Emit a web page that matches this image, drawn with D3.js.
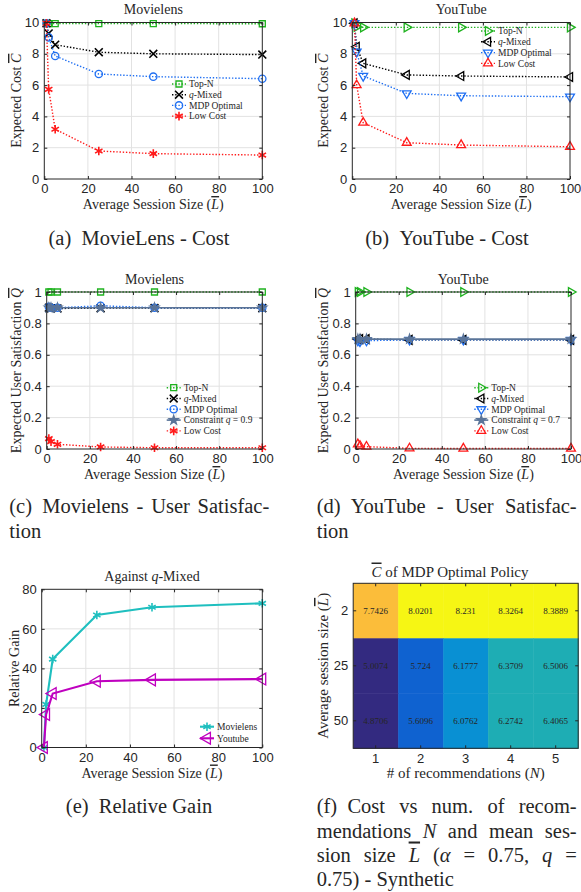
<!DOCTYPE html>
<html>
<head>
<meta charset="utf-8">
<script src="https://cdn.jsdelivr.net/npm/d3@7"></script>
<style>
body { margin: 0; background: #fff; }
svg { display: block; }
text { fill: #262626; }
.serif { font-family: "Liberation Serif", "Times New Roman", serif; }
.sans { font-family: "Liberation Sans", Arial, sans-serif; }
</style>
</head>
<body>
<svg id="fig" width="581" height="892"></svg>
<script>
// average session sizes (x axis of panels a-e)
const sessionSizes = [1, 2, 5, 25, 50, 100];

// (a) Movielens - expected cost
const mlCostTopN   = [9.95, 9.93, 9.93, 9.93, 9.93, 9.92];
const mlCostMixed  = [9.95, 9.3, 8.58, 8.1, 8.0, 7.95];
const mlCostMdp    = [9.95, 9.05, 7.86, 6.71, 6.54, 6.41];
const mlCostLow    = [9.95, 5.73, 3.18, 1.79, 1.62, 1.53];

// (b) YouTube - expected cost
const ytCostTopN   = [9.95, 9.72, 9.69, 9.69, 9.69, 9.69];
const ytCostMixed  = [9.95, 8.45, 7.39, 6.65, 6.58, 6.52];
const ytCostMdp    = [9.95, 8.13, 6.58, 5.47, 5.32, 5.26];
const ytCostLow    = [9.95, 6.0, 3.6, 2.32, 2.17, 2.06];

// (c) Movielens - user satisfaction
const mlSatTopN    = [1, 1, 1, 1, 1, 1];
const mlSatMixed   = [0.9, 0.895, 0.895, 0.897, 0.898, 0.898];
const mlSatMdp     = [0.905, 0.9, 0.9, 0.912, 0.9, 0.9];
const mlSatConstr  = [0.9, 0.9, 0.9, 0.9, 0.9, 0.9];
const mlSatLow     = [0.066, 0.047, 0.03, 0.013, 0.008, 0.008];

// (d) YouTube - user satisfaction
const ytSatTopN    = [1, 1, 1, 1, 1, 1];
const ytSatMixed   = [0.7, 0.7, 0.7, 0.695, 0.695, 0.695];
const ytSatMdp     = [0.69, 0.685, 0.69, 0.695, 0.695, 0.695];
const ytSatConstr  = [0.7, 0.7, 0.7, 0.7, 0.7, 0.7];
const ytSatLow     = [0.03, 0.02, 0.015, 0.004, 0.003, 0.003];

// (e) relative gain against q-Mixed
const gainMovielens = [0, 21.8, 44.7, 67, 70.9, 72.9];
const gainYoutube   = [0, 16.7, 27.3, 33.5, 34.2, 34.6];

// (f) heatmap
const heatCols = [1, 2, 3, 4, 5];
const heatRows = [2, 25, 50];
const heatValues = [
	[7.7426, 8.0201, 8.231, 8.3264, 8.3889],
	[5.0074, 5.724, 6.1777, 6.3709, 6.5006],
	[4.8706, 5.6096, 6.0762, 6.2742, 6.4065]
];
const heatColors = ["#332a80", "#0f62d0", "#0990d3", "#1eadb4", "#80bf6e", "#d3ba4e", "#fbbd3a", "#f6f614"];

const GREEN = "#1fb21f", BLUE = "#1f6ff2", RED = "#ff1a1a", SLATE = "#5a7499";

const svg = d3.select("#fig");

function richText(sel, parts) {
	parts.forEach(p => {
		const ts = sel.append("tspan").text(p[0]);
		if (p[1] && p[1].includes("i")) ts.attr("font-style", "italic");
		if (p[1] && p[1].includes("o")) ts.style("text-decoration", "overline");
	});
	return sel;
}

function marker(sel, type, size, color) {
	const shapes = {
		square: d3.symbolSquare, circle: d3.symbolCircle, x: d3.symbolTimes,
		asterisk: d3.symbolAsterisk, star: d3.symbolStar,
		up: d3.symbolTriangle, down: d3.symbolTriangle, right: d3.symbolTriangle, left: d3.symbolTriangle
	};
	const rot = { down: 180, right: 90, left: -90 };
	sel.attr("d", d3.symbol(shapes[type], size))
		.attr("fill", type == "star" ? color : "none")
		.attr("stroke", color)
		.attr("stroke-width", type == "x" || type == "asterisk" ? 1.6 : 1.3);
	return rot[type] || 0;
}

function linePanel(o) {
	const g = svg.append("g");
	const x = d3.scaleLinear().domain([0, 100]).range([o.left, o.right]);
	const y = d3.scaleLinear().domain(o.yDomain).range([o.bottom, o.top]);
	const lw = o.lineWidth || 1.4;

	// grid
	g.selectAll(".gx").data(x.ticks(5).slice(1, -1)).enter().append("line")
		.attr("x1", d => x(d)).attr("x2", d => x(d))
		.attr("y1", o.top).attr("y2", o.bottom)
		.attr("stroke", "#e2e2e2");
	g.selectAll(".gy").data(o.yTicks.slice(1, -1)).enter().append("line")
		.attr("y1", d => y(d)).attr("y2", d => y(d))
		.attr("x1", o.left).attr("x2", o.right)
		.attr("stroke", "#e2e2e2");

	// series
	const line = d3.line().x((d, i) => x(sessionSizes[i])).y(d => y(d));
	o.series.forEach(s => {
		g.append("path").datum(s.values)
			.attr("d", line)
			.attr("fill", "none")
			.attr("stroke", s.color)
			.attr("stroke-width", s.solid ? lw + 0.2 : lw)
			.attr("stroke-dasharray", s.solid ? null : "1.4 1.8");
		g.selectAll(null).data(s.values).enter().append("path")
			.each(function(d, i) {
				const r = marker(d3.select(this), s.marker, s.size || 36, s.color);
				d3.select(this).attr("transform", `translate(${x(sessionSizes[i])},${y(d)}) rotate(${r})`);
			});
	});

	// axes
	g.append("g").attr("transform", `translate(0,${o.bottom})`)
		.call(d3.axisBottom(x).ticks(5).tickSizeInner(-3).tickSizeOuter(0).tickPadding(5));
	g.append("g").attr("transform", `translate(${o.left},0)`)
		.call(d3.axisLeft(y).tickValues(o.yTicks).tickFormat(o.yFmt || d3.format("d")).tickSizeInner(-3).tickSizeOuter(0).tickPadding(5));
	g.append("g").attr("transform", `translate(0,${o.top})`)
		.call(d3.axisTop(x).ticks(5).tickFormat("").tickSizeInner(-3).tickSizeOuter(0));
	g.append("g").attr("transform", `translate(${o.right},0)`)
		.call(d3.axisRight(y).tickValues(o.yTicks).tickFormat("").tickSizeInner(-3).tickSizeOuter(0));
	g.selectAll(".domain").remove();
	g.selectAll(".tick line").attr("stroke", "#262626");
	g.selectAll(".tick text").attr("class", "sans").attr("font-size", 13).attr("fill", "#262626");

	g.append("rect")
		.attr("x", o.left).attr("y", o.top)
		.attr("width", o.right - o.left).attr("height", o.bottom - o.top)
		.attr("fill", "none").attr("stroke", "#262626").attr("stroke-width", 1);

	// labels
	richText(g.append("text").attr("class", "serif").attr("font-size", 14)
		.attr("text-anchor", "middle").attr("x", (o.left + o.right) / 2).attr("y", o.top - 8.5), o.title);
	richText(g.append("text").attr("class", "serif").attr("font-size", 14)
		.attr("text-anchor", "middle").attr("x", (o.left + o.right) / 2).attr("y", o.bottom + 30),
		[["Average Session Size ("], ["L", "io"], [")"]]);
	richText(g.append("text").attr("class", "serif").attr("font-size", 14)
		.attr("text-anchor", "middle")
		.attr("transform", `translate(${o.ylabelX},${(o.top + o.bottom) / 2}) rotate(-90)`), o.ylabel);

	// legend
	o.series.forEach((s, i) => {
		const ly = o.legend[1] + i * o.legend[2];
		const lx = o.legend[0];
		g.append("line").attr("x1", lx).attr("x2", lx + 14).attr("y1", ly).attr("y2", ly)
			.attr("stroke", s.color).attr("stroke-width", s.solid ? lw + 0.2 : lw)
			.attr("stroke-dasharray", s.solid ? null : "1.4 1.8");
		const m = g.append("path");
		const r = marker(m, s.marker, s.size || 36, s.color);
		m.attr("transform", `translate(${lx + 7},${ly}) rotate(${r})`);
		richText(g.append("text").attr("class", "serif").attr("font-size", 9.5)
			.attr("x", lx + 17).attr("y", ly + 3.3), s.label);
	});
}

const costLabel = [["Expected Cost "], ["C", "io"]];
const satLabel = [["Expected User Satisfaction "], ["Q", "io"]];
const mixedLabel = [["q", "i"], ["-Mixed"]];

linePanel({
	left: 44.3, right: 262.3, top: 22.5, bottom: 179,
	yDomain: [0, 10], yTicks: [0, 2, 4, 6, 8, 10],
	title: [["Movielens"]], ylabel: costLabel, ylabelX: 21,
	legend: [172, 84, 10.7],
	series: [
		{ values: mlCostTopN, color: GREEN, marker: "square", size: 36, label: [["Top-N"]] },
		{ values: mlCostMixed, color: "#000", marker: "x", size: 42, label: mixedLabel },
		{ values: mlCostMdp, color: BLUE, marker: "circle", size: 42, label: [["MDP Optimal"]] },
		{ values: mlCostLow, color: RED, marker: "asterisk", size: 52, label: [["Low Cost"]] }
	]
});

linePanel({
	left: 352.3, right: 570, top: 22.5, bottom: 179,
	yDomain: [0, 10], yTicks: [0, 2, 4, 6, 8, 10],
	title: [["YouTube"]], ylabel: costLabel, ylabelX: 328,
	legend: [481, 31, 10.8],
	series: [
		{ values: ytCostTopN, color: GREEN, marker: "right", size: 34, label: [["Top-N"]] },
		{ values: ytCostMixed, color: "#000", marker: "left", size: 34, label: mixedLabel },
		{ values: ytCostMdp, color: BLUE, marker: "down", size: 34, label: [["MDP Optimal"]] },
		{ values: ytCostLow, color: RED, marker: "up", size: 34, label: [["Low Cost"]] }
	]
});

linePanel({
	left: 46.7, right: 262.3, top: 292, bottom: 449,
	yDomain: [0, 1], yTicks: [0, 0.2, 0.4, 0.6, 0.8, 1], yFmt: d => d == 0 || d == 1 ? d : d.toFixed(1),
	title: [["Movielens"]], ylabel: satLabel, ylabelX: 21,
	legend: [166.7, 387.7, 10.8],
	series: [
		{ values: mlSatTopN, color: GREEN, marker: "square", size: 36, label: [["Top-N"]] },
		{ values: mlSatMixed, color: "#000", marker: "x", size: 42, label: mixedLabel },
		{ values: mlSatMdp, color: BLUE, marker: "circle", size: 42, label: [["MDP Optimal"]] },
		{ values: mlSatConstr, color: SLATE, marker: "star", size: 24, solid: true, label: [["Constraint "], ["q", "i"], [" = 0.9"]] },
		{ values: mlSatLow, color: RED, marker: "asterisk", size: 52, label: [["Low Cost"]] }
	]
});

linePanel({
	left: 355.7, right: 571, top: 292, bottom: 449,
	yDomain: [0, 1], yTicks: [0, 0.2, 0.4, 0.6, 0.8, 1], yFmt: d => d == 0 || d == 1 ? d : d.toFixed(1),
	title: [["YouTube"]], ylabel: satLabel, ylabelX: 328,
	legend: [474.3, 387.7, 10.8],
	series: [
		{ values: ytSatTopN, color: GREEN, marker: "right", size: 34, label: [["Top-N"]] },
		{ values: ytSatMixed, color: "#000", marker: "left", size: 34, label: mixedLabel },
		{ values: ytSatMdp, color: BLUE, marker: "down", size: 34, label: [["MDP Optimal"]] },
		{ values: ytSatConstr, color: SLATE, marker: "star", size: 24, solid: true, label: [["Constraint "], ["q", "i"], [" = 0.7"]] },
		{ values: ytSatLow, color: RED, marker: "up", size: 34, label: [["Low Cost"]] }
	]
});

linePanel({
	left: 41.7, right: 262.3, top: 589.3, bottom: 747.5,
	yDomain: [0, 80], yTicks: [0, 20, 40, 60, 80], lineWidth: 1.9,
	title: [["Against "], ["q", "i"], ["-Mixed"]], ylabel: [["Relative Gain"]], ylabelX: 19,
	legend: [200, 726.7, 11.6],
	series: [
		{ values: gainMovielens, color: "#1fbfbf", marker: "asterisk", size: 50, solid: true, label: [["Movielens"]] },
		{ values: gainYoutube, color: "#bf00bf", marker: "left", size: 60, solid: true, label: [["Youtube"]] }
	]
});

// (f) heatmap
(function() {
	const left = 353.2, right = 578.2, top = 583.3, bottom = 748.3;
	const g = svg.append("g");
	const x = d3.scaleBand().domain(heatCols).range([left, right]);
	const y = d3.scaleBand().domain(heatRows).range([top, bottom]);
	const color = d3.scaleQuantize().domain(d3.extent(heatValues.flat())).range(heatColors);

	const cells = [];
	heatRows.forEach((r, i) => heatCols.forEach((c, j) => cells.push({ r, c, v: heatValues[i][j] })));

	g.selectAll("rect.cell").data(cells).enter().append("rect")
		.attr("x", d => x(d.c)).attr("y", d => y(d.r))
		.attr("width", x.bandwidth() + 0.5).attr("height", y.bandwidth() + 0.5)
		.attr("fill", d => color(d.v));
	g.selectAll("text.cell").data(cells).enter().append("text")
		.attr("class", "serif").attr("font-size", 9).attr("text-anchor", "middle")
		.attr("x", d => x(d.c) + x.bandwidth() / 2).attr("y", d => y(d.r) + y.bandwidth() / 2 + 3)
		.attr("fill", "#1a1a1a")
		.text(d => d.v);

	g.append("g").attr("transform", `translate(0,${bottom})`)
		.call(d3.axisBottom(x).tickSizeInner(-3).tickSizeOuter(0).tickPadding(5));
	g.append("g").attr("transform", `translate(${left},0)`)
		.call(d3.axisLeft(y).tickSizeInner(-3).tickSizeOuter(0).tickPadding(5));
	g.append("g").attr("transform", `translate(0,${top})`)
		.call(d3.axisTop(x).tickFormat("").tickSizeInner(-3).tickSizeOuter(0));
	g.append("g").attr("transform", `translate(${right},0)`)
		.call(d3.axisRight(y).tickFormat("").tickSizeInner(-3).tickSizeOuter(0));
	g.selectAll(".domain").remove();
	g.selectAll(".tick line").attr("stroke", "#262626");
	g.selectAll(".tick text").attr("class", "sans").attr("font-size", 13).attr("fill", "#262626");
	g.append("rect").attr("x", left).attr("y", top)
		.attr("width", right - left).attr("height", bottom - top)
		.attr("fill", "none").attr("stroke", "#262626");

	richText(g.append("text").attr("class", "serif").attr("font-size", 15).attr("text-anchor", "middle")
		.attr("x", 450).attr("y", 576.5), [["C", "io"], [" of MDP Optimal Policy"]]);
	richText(g.append("text").attr("class", "serif").attr("font-size", 15).attr("text-anchor", "middle")
		.attr("x", (left + right) / 2).attr("y", 777.5), [["# of recommendations ("], ["N", "i"], [")"]]);
	richText(g.append("text").attr("class", "serif").attr("font-size", 15).attr("text-anchor", "middle")
		.attr("transform", `translate(328,${(top + bottom) / 2}) rotate(-90)`),
		[["Average session size ("], ["L", "io"], [")"]]);
})();

// captions, justified lines get extra word spacing
function caption(x, y, parts, width, anchor) {
	const t = svg.append("text").attr("class", "serif").attr("font-size", 20.5)
		.attr("x", x).attr("y", y).attr("fill", "#000")
		.attr("text-anchor", anchor || "start");
	richText(t, parts);
	if (width) {
		const natural = t.node().getComputedTextLength();
		const spaces = parts.map(p => p[0]).join("").split(" ").length - 1;
		t.attr("word-spacing", (width - natural) / spaces);
	}
}
caption(139, 244.5, [["(a)\u2002MovieLens - Cost"]], null, "middle");
caption(447, 244.5, [["(b)\u2002YouTube - Cost"]], null, "middle");
caption(9.3, 513, [["(c)\u2002Movielens - User Satisfac-"]], 260);
caption(9.3, 537.5, [["tion"]]);
caption(316.7, 513, [["(d)\u2002YouTube - User Satisfac-"]], 260);
caption(316.7, 537.5, [["tion"]]);
caption(139, 813, [["(e)\u2002Relative Gain"]], null, "middle");
caption(316.7, 813, [["(f)\u2002Cost vs num. of recom-"]], 260);
caption(316.7, 837.5, [["mendations "], ["N", "i"], [" and mean ses-"]], 260);
caption(316.7, 861.5, [["sion size "], ["L", "io"], [" ("], ["α", "i"], [" = 0.75, "], ["q", "i"], [" ="]], 260);
caption(316.7, 885.5, [["0.75) - Synthetic"]]);
</script>
</body>
</html>
